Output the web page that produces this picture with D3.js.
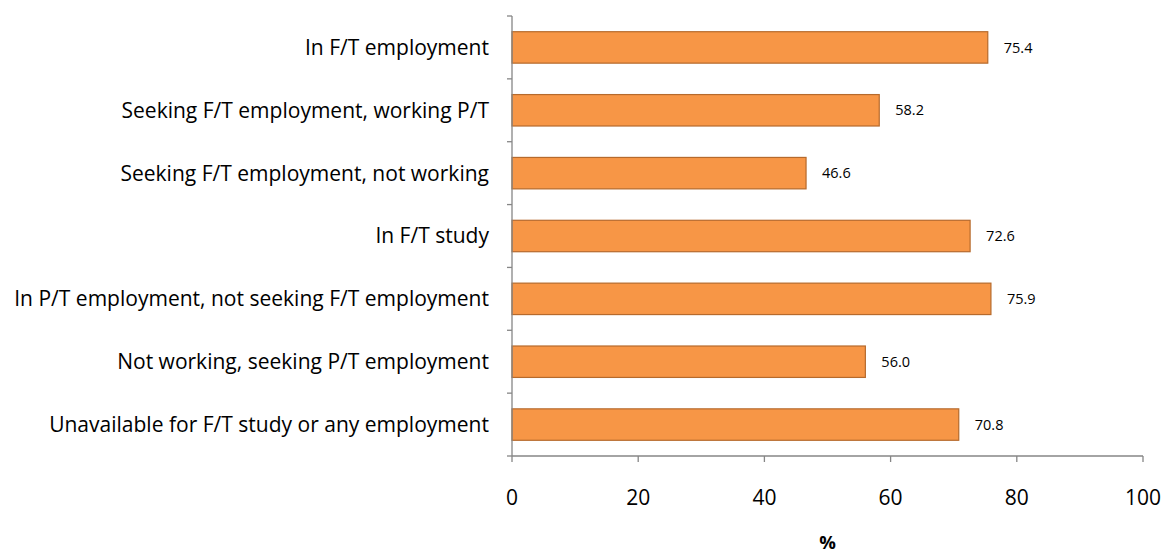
<!DOCTYPE html>
<html><head><meta charset="utf-8">
<script src="https://cdn.jsdelivr.net/npm/d3@7"></script>
<style>
html,body{margin:0;padding:0;background:#fff;}
svg{display:block;font-family:"Open Sans",sans-serif;}
</style></head>
<body><svg id="c" width="1165" height="553"></svg>
<script>
const categories = [
  "In F/T employment",
  "Seeking F/T employment, working P/T",
  "Seeking F/T employment, not working",
  "In F/T study",
  "In P/T employment, not seeking F/T employment",
  "Not working, seeking P/T employment",
  "Unavailable for F/T study or any employment"
];
const values = [75.4, 58.2, 46.6, 72.6, 75.9, 56.0, 70.8];
const xTicks = [0, 20, 40, 60, 80, 100];
const xTitle = "%";

(function () {
const svg = d3.select("#c");
const mLeft = 512, mRight = 1143, mTop = 16, mBottom = 456;
const x = d3.scaleLinear().domain([0, 100]).range([mLeft, mRight]);
const y = d3.scaleBand().domain(categories).range([mTop, mBottom]).paddingInner(0.5).paddingOuter(0.25);
const axisColor = "#868686";

// bars
svg.append("g").selectAll("rect").data(values).join("rect")
  .attr("x", x(0)).attr("y", (d, i) => y(categories[i]))
  .attr("width", d => x(d) - x(0)).attr("height", y.bandwidth())
  .attr("fill", "#F79646").attr("stroke", "#B66A2C").attr("stroke-width", 1.2);

// value labels
svg.append("g").selectAll("text").data(values).join("text")
  .attr("x", d => x(d) + 16).attr("y", (d, i) => y(categories[i]) + y.bandwidth() / 2)
  .attr("dy", "0.35em").attr("font-size", 14.5).attr("fill", "#000")
  .text(d => d.toFixed(1));

// y axis
const yAxisG = svg.append("g");
yAxisG.append("line").attr("x1", mLeft).attr("x2", mLeft).attr("y1", mTop).attr("y2", mBottom)
  .attr("stroke", axisColor).attr("stroke-width", 1.3);
const yTickPos = d3.range(categories.length + 1).map(i => mTop + i * (mBottom - mTop) / categories.length);
yAxisG.selectAll("line.t").data(yTickPos).join("line").attr("class", "t")
  .attr("x1", mLeft - 5).attr("x2", mLeft).attr("y1", d => d).attr("y2", d => d)
  .attr("stroke", axisColor).attr("stroke-width", 1.3);
const catLabels = yAxisG.selectAll("text").data(categories).join("text")
  .attr("x", mLeft - 23).attr("y", d => y(d) + y.bandwidth() / 2)
  .attr("dy", "0.35em").attr("text-anchor", "end").attr("font-size", 18).attr("fill", "#000")
  .text(d => d);
let maxW = 0;
catLabels.each(function () { maxW = Math.max(maxW, this.getComputedTextLength()); });
const fs = 18 * 475 / maxW;
catLabels.attr("font-size", fs);

// x axis
const xAxisG = svg.append("g");
xAxisG.append("line").attr("x1", mLeft).attr("x2", mRight).attr("y1", mBottom).attr("y2", mBottom)
  .attr("stroke", axisColor).attr("stroke-width", 1.3);
xAxisG.selectAll("line.t").data(xTicks).join("line").attr("class", "t")
  .attr("x1", d => x(d)).attr("x2", d => x(d)).attr("y1", mBottom).attr("y2", mBottom + 6)
  .attr("stroke", axisColor).attr("stroke-width", 1.3);
xAxisG.selectAll("text").data(xTicks).join("text")
  .attr("x", d => x(d)).attr("y", mBottom + 49).attr("text-anchor", "middle")
  .attr("font-size", fs).attr("fill", "#000").text(d => d);

svg.append("text").attr("x", (mLeft + mRight) / 2).attr("y", 549)
  .attr("text-anchor", "middle").attr("font-weight", "bold").attr("font-size", 18.5)
  .attr("fill", "#000").text(xTitle);
})();
</script></body></html>
